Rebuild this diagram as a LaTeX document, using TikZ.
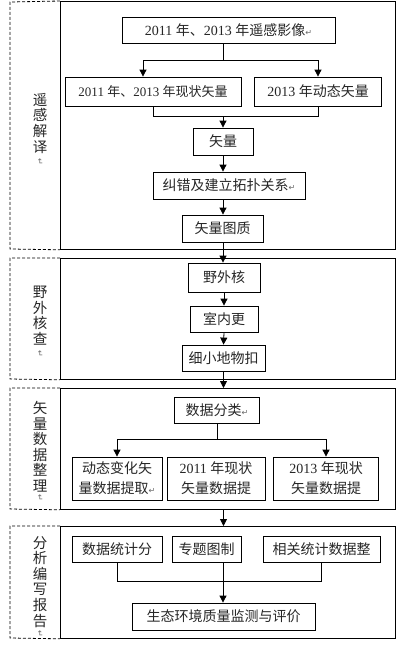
\documentclass[tikz,border=0pt]{standalone}
\usepackage{fontspec}
\usepackage{graphicx}
\setmainfont{Liberation Serif}
\newfontfamily\cj{Noto Sans CJK SC}
\newfontfamily\sym{DejaVu Sans}
\usetikzlibrary{arrows.meta}
\newcommand\ret{{\sym\fontsize{8}{8}\selectfont\color{black!60}↵}}
\newcommand\vret{\rotatebox{-90}{\ret}}
\begin{document}
\begin{tikzpicture}[x=1pt,y=-1pt,
  box/.style={draw,line width=0.8pt,inner sep=0pt,minimum height=27pt,align=center,
    text=black!85,font=\fontsize{14}{20}\selectfont},
  frame/.style={draw,line width=0.8pt,inner sep=0pt,anchor=north west,minimum width=335pt},
  side/.style={line width=0.8pt,dash pattern=on 3pt off 2pt},
  ln/.style={line width=0.8pt},
  arr/.style={line width=0.8pt,-{Triangle[length=7pt,width=7pt]}},
  lab/.style={align=center,inner sep=0pt,anchor=north,text=black!85,
    font=\cj\fontsize{14.5}{15.6}\selectfont},
  retmark/.style={inner sep=0pt}]
\useasboundingbox (0,0) rectangle (407,648);
\node[frame,minimum height=248pt] (f1) at (60,1) {};
\node[frame,minimum height=121pt] (f2) at (60,258) {};
\node[frame,minimum height=121pt] (f3) at (60,388) {};
\node[frame,minimum height=112pt] (f4) at (60,526) {};
\draw[side] (f1.north west) -- (10,2) -- (10,249) -- (f1.south west);
\draw[side] (f2.north west) -- (10,258) -- (10,379) -- (f2.south west);
\draw[side] (f3.north west) -- (10,388) -- (10,509) -- (f3.south west);
\draw[side] (f4.north west) -- (10,526) -- (10,638) -- (f4.south west);
\node[lab] (l1) at (40,93) {遥\\感\\解\\译};
\node[lab] (l2) at (40,286) {野\\外\\核\\查};
\node[lab] (l3) at (40,401) {矢\\量\\数\\据\\整\\理};
\node[lab] (l4) at (40,536) {分\\析\\编\\写\\报\\告};
\node[retmark] (m1) at (40,162) {\vret};
\node[retmark] (m2) at (40,354) {\vret};
\node[retmark] (m3) at (40,498) {\vret};
\node[retmark] (m4) at (40,634) {\vret};
\node[box,minimum width=213pt,minimum height=26pt] (img) at (228.5,30) {2011 {\cj 年、}2013 {\cj 年遥感影像}\ret};
\node[box,minimum width=176pt,minimum height=29pt,font=\fontsize{13}{15}\selectfont] (cur) at (153,91.5) {2011 {\cj 年、}2013 {\cj 年现状矢量}};
\node[box,minimum width=127pt,minimum height=29pt] (dyn) at (318,91.5) {2013 {\cj 年动态矢量}};
\node[box,minimum width=60pt] (vec) at (223,141.5) {\cj 矢量};
\node[box,minimum width=152pt] (topo) at (229,185.5) {{\cj 纠错及建立拓扑关系}\ret};
\node[box,minimum width=81pt] (qual) at (222.5,228.5) {\cj 矢量图质};
\node[box,minimum width=72pt,minimum height=29pt] (field) at (224,277.5) {\cj 野外核};
\node[box,minimum width=68pt,minimum height=26pt] (indoor) at (224,319) {\cj 室内更};
\node[box,minimum width=83pt,minimum height=26pt] (deduct) at (223.5,358) {\cj 细小地物扣};
\node[box,minimum width=85pt,minimum height=26pt] (cls) at (217,410) {{\cj 数据分类}\ret};
\node[box,minimum width=90pt,minimum height=43pt] (d1) at (117,478.5) {{\cj 动态变化矢}\\{\cj 量数据提取}\ret};
\node[box,minimum width=98pt,minimum height=43pt] (d2) at (216,478.5) {2011 {\cj 年现状}\\{\cj 矢量数据提}};
\node[box,minimum width=105pt,minimum height=43pt] (d3) at (326,478.5) {2013 {\cj 年现状}\\{\cj 矢量数据提}};
\node[box,minimum width=90pt,minimum height=26pt] (s1) at (117,549) {\cj 数据统计分};
\node[box,minimum width=69pt,minimum height=26pt] (s2) at (206.5,549) {\cj 专题图制};
\node[box,minimum width=117pt,minimum height=26pt] (s3) at (321.5,549) {\cj 相关统计数据整};
\node[box,minimum width=183pt] (eval) at (223.5,616.5) {\cj 生态环境质量监测与评价};
\coordinate (sp1) at (223,60);
\coordinate (mg1) at (223,116);
\coordinate (sp3) at (217,439);
\coordinate (mg4) at (223,581);
\draw[ln] (img.south -| sp1) -- (sp1);
\draw[ln] ([xshift=-10pt]cur.north |- sp1) -- (dyn.north |- sp1);
\draw[arr] ([xshift=-10pt]cur.north |- sp1) -- ([xshift=-10pt]cur.north);
\draw[arr] (dyn.north |- sp1) -- (dyn.north);
\draw[ln] (cur.south) -- (cur.south |- mg1) -- (dyn.south |- mg1) -- (dyn.south);
\draw[arr] (mg1) -- (vec.north);
\draw[arr] (vec.south) -- (vec.south |- topo.north);
\draw[arr] (topo.south -| vec.south) -- (qual.north -| vec.south);
\draw[arr] (qual.south -| vec.south) -- (field.north -| vec.south);
\draw[arr] (field.south) -- (indoor.north);
\draw[arr] (indoor.south) -- (deduct.south |- deduct.north);
\draw[arr] (deduct.south) -- (deduct.south |- f3.north);
\draw[ln] (cls.south) -- (sp3);
\draw[ln] (d1.north |- sp3) -- (d3.north |- sp3);
\draw[arr] (d1.north |- sp3) -- (d1.north);
\draw[arr] (d3.north |- sp3) -- (d3.north);
\draw[arr] (f3.south -| deduct.south) -- (f4.north -| deduct.south);
\draw[ln] (s1.south) -- (s1.south |- mg4) -- (s3.south |- mg4) -- (s3.south);
\draw[arr] (s2.south -| mg4) -- (eval.north -| mg4);
\end{tikzpicture}
\end{document}
